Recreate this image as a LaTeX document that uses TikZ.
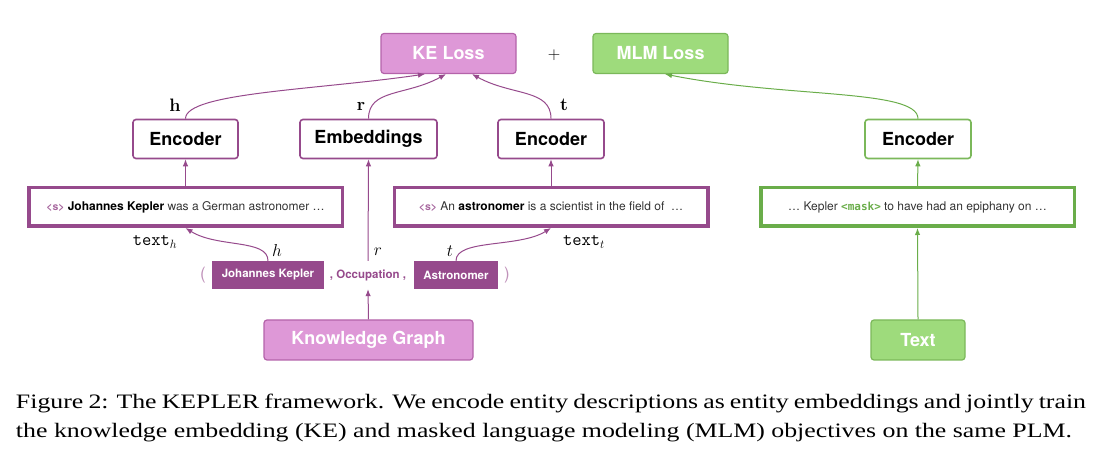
\documentclass[tikz,border=0pt]{standalone}
\usepackage{fontspec}
\usetikzlibrary{arrows.meta,positioning,calc}
\newfontfamily\heros{TeX Gyre Heros}
\newfontfamily\capfont[FakeStretch=1.26]{Liberation Serif}
\newfontfamily\codefont{DejaVu Sans Mono}
\definecolor{kepurple}{HTML}{964A8C}
\definecolor{kepink}{HTML}{DE98D7}
\definecolor{kepinkline}{HTML}{B463AA}
\definecolor{mlmgreen}{HTML}{9EDB7C}
\definecolor{mlmgreenline}{HTML}{7BB85A}
\definecolor{mlmdark}{HTML}{6AAD4A}
\definecolor{sentgray}{HTML}{333333}

\newcommand{\lblsize}[1]{\fontsize{#1}{#1}\selectfont}

\tikzset{
    lossbox/.style={draw, rounded corners=3pt, line width=1.2pt, minimum width=135pt, minimum height=40pt,
        text=white, font=\heros\bfseries\fontsize{18}{20}\selectfont},
    kebox/.style={lossbox, fill=kepink, draw=kepinkline},
    mlmbox/.style={lossbox, fill=mlmgreen, draw=mlmgreenline},
    encbox/.style={draw, rounded corners=3pt, line width=1.6pt, fill=white, minimum height=39pt,
        font=\heros\bfseries\fontsize{18}{20}\selectfont},
    sentbox/.style={draw, line width=3.5pt, minimum width=313.5pt, minimum height=38.5pt,
        text=sentgray, font=\heros\fontsize{12}{14}\selectfont},
    entbox/.style={fill=kepurple, text=white, minimum height=28pt,
        font=\heros\bfseries\fontsize{11.5}{13}\selectfont},
    veclbl/.style={inner sep=0pt},
    kelink/.style={draw=kepurple, line width=1pt, -{Latex[length=7pt,width=5.5pt]}},
    mlmlink/.style={draw=mlmdark, line width=1pt, -{Latex[length=7pt,width=5.5pt]}},
}

\begin{document}
\begin{tikzpicture}[x=1pt, y=1pt]
        \useasboundingbox (0,0) rectangle (1118,468);

        % Losses
        \node[kebox] (keloss) at (448.5,414.5) {KE Loss};
        \node[veclbl] (plus) at (554,413) {\lblsize{17.28}$+$};
        \node[mlmbox] (mlmloss) at (660.5,414.5) {MLM Loss};

        % Encoders
        \node[encbox, draw=kepurple, minimum width=105pt] (ench) at (185.5,329) {Encoder};
        \node[encbox, draw=kepurple, minimum width=137pt] (emb) at (368.5,329) {Embeddings};
        \node[encbox, draw=kepurple, minimum width=106pt] (enct) at (551,329) {Encoder};
        \node[encbox, draw=mlmgreenline, minimum width=106pt] (encm) at (918,329) {Encoder};

        \node[veclbl] (vech) at (175,363) {\lblsize{18}\textbf{h}};
        \node[veclbl] (vecr) at (361,362) {\lblsize{18}\textbf{r}};
        \node[veclbl] (vect) at (564,363) {\lblsize{18}\textbf{t}};

        % Descriptions
        \node[sentbox, draw=kepurple] (txth) at (185.5,261)
            {{\color{kepurple!85}\bfseries\fontsize{10.5}{12}\selectfont <s>} \textbf{\color{black}Johannes Kepler} was a German astronomer \dots};
        \node[sentbox, draw=kepurple] (txtt) at (551,261)
            {{\color{kepurple!85}\bfseries\fontsize{10.5}{12}\selectfont <s>} An \textbf{\color{black}astronomer} is a scientist in the field of \ \dots};
        \node[sentbox, draw=mlmdark] (txtm) at (917.5,261)
            {\dots\ Kepler {\codefont\bfseries\color{mlmdark}\fontsize{11}{13}\selectfont <mask>} to have had an epiphany on \dots};

        \node[veclbl] (texth) at (155,226) {\lblsize{18}\texttt{text}$_h$};
        \node[veclbl] (textt) at (584,226) {\lblsize{18}\texttt{text}$_t$};

        % Triplet
        \node[font=\heros\fontsize{17}{19}\selectfont, text=kepurple!60] (lpar) at (203,193) {(};
        \node[entbox, minimum width=112pt] (jk) at (268,193) {Johannes Kepler};
        \node[font=\heros\bfseries\fontsize{11.5}{13}\selectfont, text=kepurple, minimum height=28pt] (occ) at (368,193) {, Occupation ,};
        \node[entbox, minimum width=84pt] (astro) at (456,193) {Astronomer};
        \node[font=\heros\fontsize{17}{19}\selectfont, text=kepurple!60] (rpar) at (507,193) {)};

        \node[veclbl] (lblh) at (277,217) {\lblsize{17}$h$};
        \node[veclbl] (lblr) at (378,216) {\lblsize{17}$r$};
        \node[veclbl] (lblt) at (450,217) {\lblsize{17}$t$};

        % Sources
        \node[kebox, minimum width=209pt] (kg) at (368.5,128) {Knowledge Graph};
        \node[mlmbox, minimum width=94pt] (src) at (918,128) {Text};

        % Links
        \draw[kelink] (kg.north) -- (occ.south);
        \draw[kelink] (occ.north) -- (emb.south);
        \draw[kelink] (jk.north) .. controls +(0,22) and +(32,-20) .. (txth.south);
        \draw[kelink] (astro.north) .. controls +(0,22) and +(-32,-20) .. (txtt.south);
        \draw[kelink] (txth.north) -- (ench.south);
        \draw[kelink] (txtt.north) -- (enct.south);
        \draw[kelink] (ench.north) .. controls +(0,26) and +(-110,-16) .. ([xshift=-23.5pt]keloss.south);
        \draw[kelink] (emb.north) .. controls +(0,30) and +(-40,-22) .. ([xshift=-2.5pt]keloss.south);
        \draw[kelink] (enct.north) .. controls +(0,30) and +(40,-22) .. ([xshift=23.5pt]keloss.south);

        \draw[mlmlink] (src.north) -- (txtm.south);
        \draw[mlmlink] (txtm.north) -- (encm.south);
        \draw[mlmlink] (encm.north) .. controls +(0,30) and +(120,-24) .. ([xshift=4.5pt]mlmloss.south);

        % Caption
        \node[text width=1070pt, align=justify, inner sep=0pt, font=\capfont\fontsize{20.5}{28.5}\selectfont] (caption) at (551,50)
            {Figure 2: The KEPLER framework. We encode entity descriptions as entity embeddings and jointly train\linebreak the knowledge embedding (KE) and masked language modeling (MLM) objectives on the same PLM.};
    \end{tikzpicture}
\end{document}
